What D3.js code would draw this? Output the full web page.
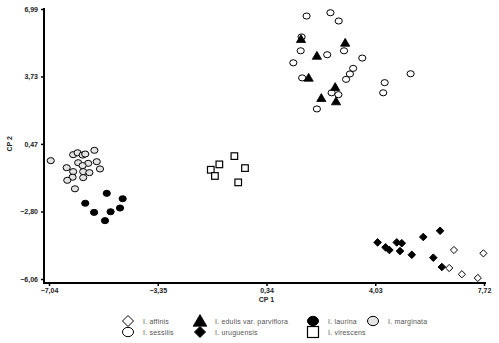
<!DOCTYPE html>
<html>
<head>
<meta charset="utf-8">
<script src="https://cdn.jsdelivr.net/npm/d3@7"></script>
<style>
  html, body { margin: 0; padding: 0; background: #fff; }
  svg { display: block; font-family: "Liberation Sans", Arial, sans-serif; }
</style>
</head>
<body>
<svg id="chart" width="499" height="343"></svg>
<script>
// Principal component scores (CP 1, CP 2) for each Inga species
const affinis = [[6.70,-4.66],[7.70,-4.82],[6.54,-5.53],[6.97,-5.83],[7.51,-6.01]];
const sessilis = [[1.70,6.65],[2.51,6.81],[2.79,6.41],[1.53,5.64],[1.50,4.97],[2.40,4.78],[2.97,4.97],
  [1.25,4.39],[3.59,4.62],[3.28,4.12],[3.17,3.85],[3.04,3.59],[1.55,3.66],[2.55,2.94],[2.78,2.85],
  [2.05,2.16],[4.35,3.43],[4.30,2.94],[5.23,3.86]];
const parviflora = [[3.01,5.36],[2.05,4.73],[1.77,3.67],[2.67,3.22],[2.20,2.69],[2.70,2.53],[1.51,5.54]];
const uruguensis = [[6.23,-3.73],[5.66,-4.03],[4.11,-4.29],[4.76,-4.29],[4.93,-4.33],[4.38,-4.53],
  [4.51,-4.66],[4.87,-4.71],[5.27,-4.89],[6.00,-5.03],[6.29,-5.48]];
const laurina = [[-5.08,-1.92],[-4.54,-2.18],[-5.81,-2.40],[-4.63,-2.63],[-5.51,-2.84],[-4.95,-2.81],[-5.14,-3.24]];
const virescens = [[-0.75,-0.12],[-1.26,-0.52],[-1.55,-0.78],[-0.39,-0.70],[-1.41,-1.08],[-0.62,-1.39]];
const marginata = [[-6.98,-0.34],[-6.22,-0.05],[-6.07,0.04],[-5.90,-0.07],[-5.81,-0.02],[-5.50,0.16],
  [-6.05,-0.44],[-5.71,-0.47],[-5.42,-0.39],[-6.44,-0.68],[-5.90,-0.58],[-5.31,-0.74],[-6.22,-0.87],
  [-5.88,-0.87],[-5.67,-0.92],[-6.24,-1.14],[-5.88,-1.16],[-6.42,-1.29],[-6.16,-1.70]];

const xTicks = [-7.04, -3.35, 0.34, 4.03, 7.72];
const yTicks = [-6.06, -2.80, 0.47, 3.73, 6.99];

const svg = d3.select("#chart");
const x = d3.scaleLinear().domain([-7.04, 7.72]).range([49, 484]);
const y = d3.scaleLinear().domain([-6.06, 6.99]).range([279, 9]);
const fmt = v => d3.format(".2f")(v).replace(".", ",");

// axes (lines offset slightly outward from the first tick)
const axisX = 44, axisY = 283;
svg.append("line").attr("x1", axisX).attr("x2", axisX).attr("y1", 8).attr("y2", axisY + 1)
  .attr("stroke", "#000").attr("stroke-width", 2);
svg.append("line").attr("x1", axisX - 1).attr("x2", 486).attr("y1", axisY).attr("y2", axisY)
  .attr("stroke", "#000").attr("stroke-width", 2);

const yAxis = d3.axisLeft(y).tickValues(yTicks).tickSize(3).tickPadding(3).tickFormat(fmt);
const gy = svg.append("g").attr("transform", `translate(${axisX},0)`).call(yAxis);
gy.select(".domain").remove();
gy.selectAll(".tick line").attr("stroke", "#000").attr("stroke-width", 1.5);
gy.selectAll(".tick text").attr("font-size", 7).attr("font-weight", "bold").attr("fill", "#222")
  .attr("font-family", "'Liberation Sans', Arial, sans-serif");

const xAxis = d3.axisBottom(x).tickValues(xTicks).tickSize(3).tickPadding(2).tickFormat(fmt);
const gx = svg.append("g").attr("transform", `translate(0,${axisY})`).call(xAxis);
gx.select(".domain").remove();
gx.selectAll(".tick line").attr("stroke", "#000").attr("stroke-width", 1.5);
gx.selectAll(".tick text").attr("font-size", 7).attr("font-weight", "bold").attr("fill", "#222")
  .attr("font-family", "'Liberation Sans', Arial, sans-serif");

svg.append("text").attr("x", x(0.34)).attr("y", 302).attr("text-anchor", "middle")
  .attr("font-size", 7).attr("font-weight", "bold").attr("fill", "#222").text("CP 1");
svg.append("text").attr("transform", `translate(12,${y(0.47)}) rotate(-90)`).attr("text-anchor", "middle")
  .attr("font-size", 7).attr("font-weight", "bold").attr("fill", "#222").text("CP 2");

// marker shapes, drawn around (0,0) with size factor s
const shapes = {
  diamond: (g, s, fill) => g.append("path").attr("d", `M0,${-s}L${s},0L0,${s}L${-s},0Z`)
    .attr("fill", fill).attr("stroke", "#000").attr("stroke-width", 1),
  circle: (g, s, fill) => g.append("ellipse").attr("rx", s).attr("ry", s * 0.85)
    .attr("fill", fill).attr("stroke", "#000").attr("stroke-width", 1),
  triangle: (g, s, fill) => g.append("path").attr("d", `M0,${-s}L${s * 1.05},${s * 0.8}L${-s * 1.05},${s * 0.8}Z`)
    .attr("fill", fill).attr("stroke", "#000").attr("stroke-width", 0.8),
  square: (g, s, fill) => g.append("rect").attr("x", -s).attr("y", -s).attr("width", 2 * s).attr("height", 2 * s)
    .attr("fill", fill).attr("stroke", "#000").attr("stroke-width", 1.2)
};

const series = [
  { name: "I. affinis", data: affinis, shape: "diamond", fill: "#fff", s: 3.6 },
  { name: "I. sessilis", data: sessilis, shape: "circle", fill: "#fff", s: 3.6 },
  { name: "I. edulis var. parviflora", data: parviflora, shape: "triangle", fill: "#000", s: 4.4 },
  { name: "I. uruguensis", data: uruguensis, shape: "diamond", fill: "#000", s: 3.8 },
  { name: "I. laurina", data: laurina, shape: "circle", fill: "#000", s: 3.6 },
  { name: "I. virescens", data: virescens, shape: "square", fill: "#fff", s: 3.3 },
  { name: "I. marginata", data: marginata, shape: "circle", fill: "#e4e4e4", s: 3.6 }
];

series.forEach(sr => {
  svg.append("g").selectAll("g").data(sr.data).join("g")
    .attr("transform", d => `translate(${x(d[0])},${y(d[1])})`)
    .each(function () { shapes[sr.shape](d3.select(this), sr.s, sr.fill); });
});

// legend: two rows of four columns
const legendCols = [128, 200, 313, 373];
const legendRows = [321, 332];
const legendOrder = [
  ["I. affinis", 0, 0], ["I. edulis var. parviflora", 1, 0], ["I. laurina", 2, 0], ["I. marginata", 3, 0],
  ["I. sessilis", 0, 1], ["I. uruguensis", 1, 1], ["I. virescens", 2, 1]
];
legendOrder.forEach(([name, c, r]) => {
  const sr = series.find(d => d.name === name);
  const g = svg.append("g").attr("transform", `translate(${legendCols[c]},${legendRows[r]})`);
  shapes[sr.shape](g, sr.shape === "triangle" ? 6.5 : 5.5, sr.fill);
  g.append("text").attr("x", 15).attr("y", 2.5).attr("font-size", 7).attr("fill", "#555")
    .style("letter-spacing", "0.2px").text(name);
});
</script>
</body>
</html>
